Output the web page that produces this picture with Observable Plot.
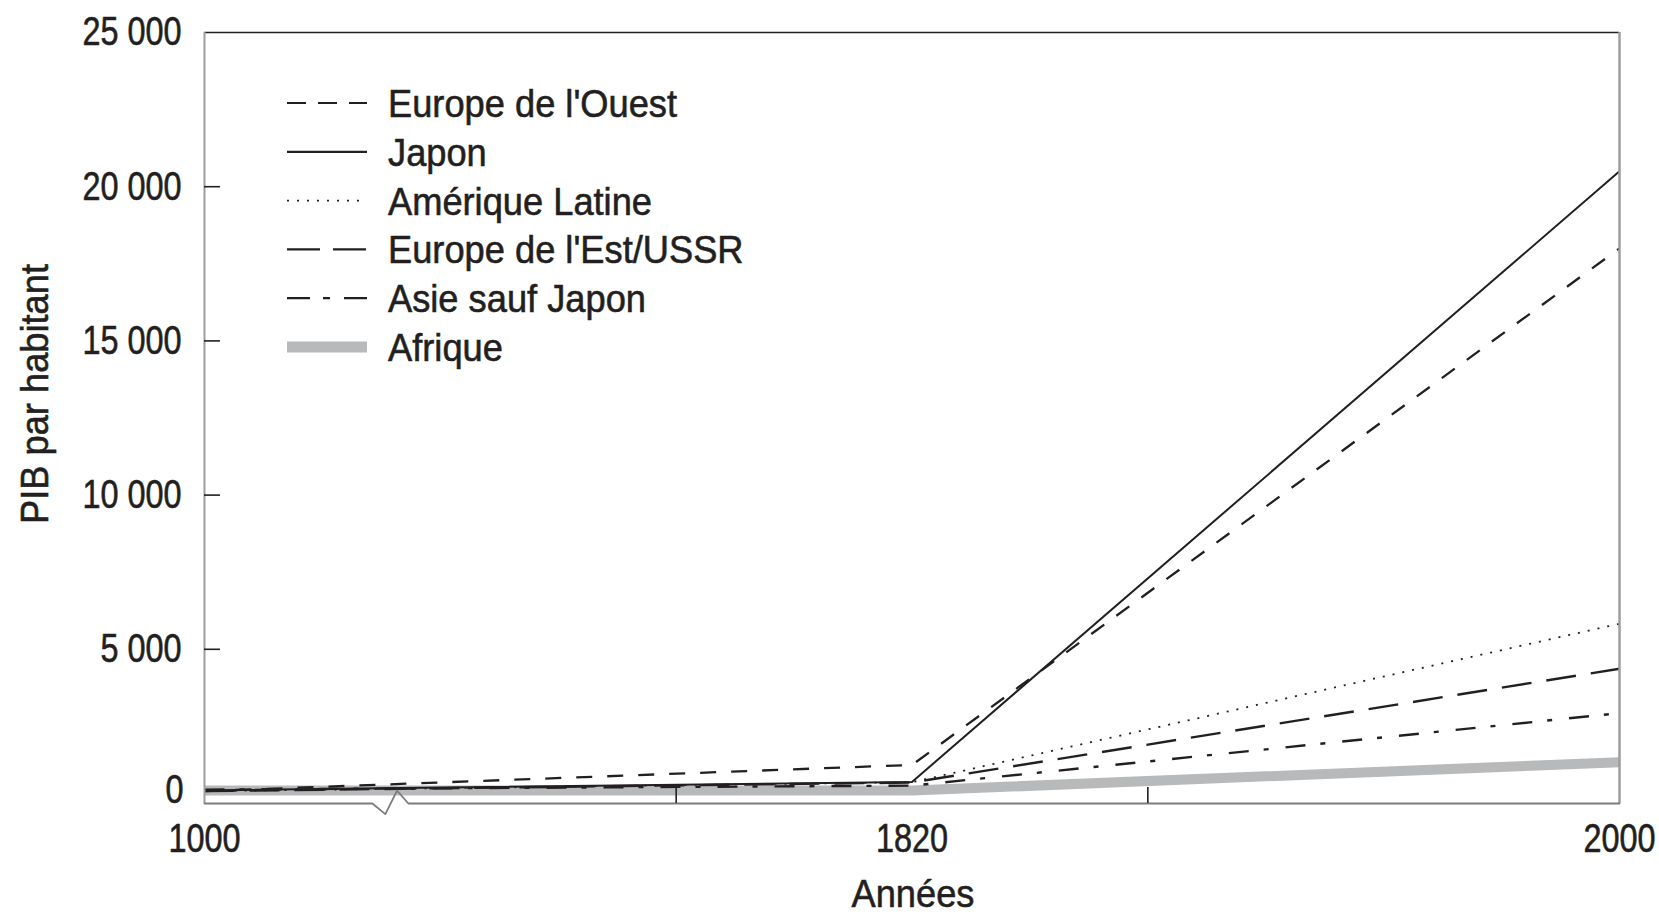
<!DOCTYPE html>
<html>
<head>
<meta charset="utf-8">
<script src="https://cdn.jsdelivr.net/npm/d3@7"></script>
<script src="https://cdn.jsdelivr.net/npm/@observablehq/plot@0.6"></script>
<style>
  html, body { margin: 0; padding: 0; background: #fff; }
  #wrap { position: relative; width: 1659px; height: 916px; overflow: hidden; }
  #overlay { position: absolute; left: 0; top: 0; pointer-events: none; }
  #wrap text { stroke: #231f20; stroke-width: 0.6px; paint-order: stroke; }
</style>
</head>
<body>
<div id="wrap"></div>
<script>
// ---- data ----
const years = [1000, 1820, 2000];
const seriesNames = ["Europe de l'Ouest", "Japon", "Amérique Latine", "Europe de l'Est/USSR", "Asie sauf Japon", "Afrique"];
const westernEurope = [400, 1250, 18000];
const japan = [425, 700, 20500];
const latinAmerica = [400, 690, 5830];
const easternEurope = [400, 680, 4370];
const asiaExJapan = [450, 580, 2930];
const africa = [425, 420, 1340];
const yTickValues = [5000, 10000, 15000, 20000, 25000];
const yZeroTick = [0];
const yInnerTicks = [5000, 10000, 15000, 20000];
const xInnerTicks = [1546.67, 1880];
const axisBreakYears = [1000, 1194.6, 1209.6, 1223.2, 1236.3, 2000];
const axisBreakValues = [0, 0, -345, 420, 0, 0];
const xTitle = "Années";
const yTitle = "PIB par habitant";

// ---- layout / styles ----
const W = 1659, H = 916;
const mL = 204, mR = 40, mT = 32, mB = 113;
const innerW = W - mL - mR, innerH = H - mT - mB;
const ink = "#231f20";
const frameGrey = "#9d9d9d";
const africaGrey = "#b7b9bb";

const seriesValues = [westernEurope, japan, latinAmerica, easternEurope, asiaExJapan, africa];
const lineStyles = [
  {stroke: ink, strokeWidth: 2.3, strokeDasharray: "16,15"},
  {stroke: ink, strokeWidth: 2.0, strokeDasharray: null},
  {stroke: ink, strokeWidth: 1.8, strokeDasharray: "2,8"},
  {stroke: ink, strokeWidth: 2.4, strokeDasharray: "30,15"},
  {stroke: ink, strokeWidth: 2.4, strokeDasharray: "20,15,5,17"},
  {stroke: africaGrey, strokeWidth: 10, strokeDasharray: null}
];
const legendStyles = [
  {stroke: ink, strokeWidth: 2.2, dash: "19,12"},
  {stroke: ink, strokeWidth: 2.2, dash: null},
  {stroke: ink, strokeWidth: 1.8, dash: "2,8"},
  {stroke: ink, strokeWidth: 2.2, dash: "33,13"},
  {stroke: ink, strokeWidth: 2.2, dash: "23,13,7,14"},
  {stroke: africaGrey, strokeWidth: 11, dash: null}
];

const seriesRows = seriesValues.map((vals, s) =>
  years.map((yr, i) => ({series: seriesNames[s], year: yr, value: vals[i]})));
const drawOrder = [5, 0, 1, 2, 3, 4];

const breakRows = axisBreakYears.map((yr, i) => ({year: yr, value: axisBreakValues[i]}));

const spaceFmt = d => d3.format(",")(d).replace(/,/g, " ");
const textFont = "'Liberation Sans', Arial, sans-serif";

const plot = Plot.plot({
  width: W,
  height: H,
  marginLeft: mL, marginRight: mR, marginTop: mT, marginBottom: mB,
  style: {fontFamily: textFont, fontSize: "40px", color: ink, background: "transparent", overflow: "visible"},
  x: {type: "linear", domain: years, range: [mL, mL + innerW / 2, W - mR]},
  y: {type: "linear", domain: [0, 25000]},
  marks: [
    ...drawOrder.map(s => Plot.line(seriesRows[s], {
      x: "year", y: "value",
      stroke: lineStyles[s].stroke,
      strokeWidth: lineStyles[s].strokeWidth,
      strokeDasharray: lineStyles[s].strokeDasharray,
      strokeLinecap: "butt"
    })),
    // frame
    Plot.ruleY([25000], {stroke: ink, strokeWidth: 1.6}),
    Plot.ruleX([years[0]], {stroke: frameGrey, strokeWidth: 2}),
    Plot.ruleX([years[2]], {stroke: frameGrey, strokeWidth: 2.5}),
    Plot.line(breakRows, {x: "year", y: "value", stroke: "#7d7d7d", strokeWidth: 1.8}),
    // inward ticks
    Plot.tickY(yInnerTicks, {y: d => d, insetRight: innerW - 16, stroke: ink, strokeWidth: 1.6}),
    Plot.tickX(xInnerTicks, {x: d => d, insetTop: innerH - 16, stroke: ink, strokeWidth: 1.6}),
    // tick labels
    Plot.axisY({ticks: yTickValues, tickSize: 0, tickPadding: 23, tickFormat: spaceFmt, fontSize: 40, label: null, fill: ink}),
    Plot.axisY({ticks: yZeroTick, tickSize: 0, tickPadding: 21, dy: -13.5, tickFormat: spaceFmt, fontSize: 40, label: null, fill: ink}),
    Plot.axisX({ticks: years, tickSize: 0, tickPadding: 20, tickFormat: d3.format("d"), fontSize: 40, label: null, fill: ink})
  ]
});
document.getElementById("wrap").appendChild(plot);

// condensed look for the tick labels (narrow face not installed): squeeze horizontally about each anchor
const tickSqueeze = 0.81;
d3.select(plot).selectAll("text").each(function () {
  const tr = this.getAttribute("transform") || "";
  this.setAttribute("transform", `${tr} scale(${tickSqueeze},1)`);
});

// ---- legend and axis titles (overlay) ----
const squeeze = 0.93;
const svg = d3.select("#wrap").append("svg")
  .attr("id", "overlay").attr("width", W).attr("height", H);

const legendX0 = 287, legendX1 = 367, legendTextX = 388, legendTop = 103, legendStep = 48.8;
seriesNames.forEach((name, i) => {
  const yy = legendTop + i * legendStep;
  const st = legendStyles[i];
  svg.append("line")
    .attr("x1", legendX0).attr("x2", legendX1).attr("y1", yy).attr("y2", yy)
    .attr("stroke", st.stroke).attr("stroke-width", st.strokeWidth)
    .attr("stroke-dasharray", st.dash);
  svg.append("text")
    .attr("transform", `translate(${legendTextX},${yy + 14}) scale(${squeeze},1)`)
    .attr("font-family", textFont).attr("font-size", 39).attr("fill", ink)
    .text(name);
});

svg.append("text")
  .attr("transform", `translate(913,907) scale(${squeeze},1)`)
  .attr("text-anchor", "middle")
  .attr("font-family", textFont).attr("font-size", 39).attr("fill", ink)
  .text(xTitle);

svg.append("text")
  .attr("transform", `translate(48,394) rotate(-90) scale(${squeeze},1)`)
  .attr("text-anchor", "middle")
  .attr("font-family", textFont).attr("font-size", 39).attr("fill", ink)
  .text(yTitle);
</script>
</body>
</html>
